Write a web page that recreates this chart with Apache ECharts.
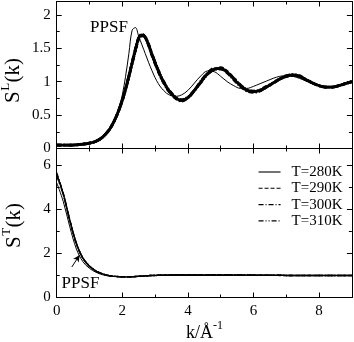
<!DOCTYPE html>
<html><head><meta charset="utf-8">
<script src="https://cdn.jsdelivr.net/npm/echarts@6/dist/echarts.min.js"></script>
<style>html,body{margin:0;padding:0;background:#fff}#c{width:354px;height:342px}</style>
</head><body><div id="c"></div>
<script>
// k values (1/Angstrom)
const kGrid = [0,0.2,0.4,0.6,0.8,1.0,1.2,1.4,1.6,
  1.7,1.8,1.9,2.0,2.1,2.2,2.3,2.4,2.5,2.6,2.7,2.8,2.9,3.0,3.1,3.2,3.3,
  3.4,3.6,3.8,4.0,4.2,4.4,4.6,4.8,5.0,5.2,5.4,5.6,5.8,6.0,6.2,6.4,6.6,6.8,7.0,7.2,7.4,7.6,7.8,8.0,8.2,8.4,8.6,8.8,9.0];

// Top panel: longitudinal S^L(k)
const sL_PPSF = [0.05,0.05,0.05,0.055,0.065,0.08,0.11,0.17,0.28,
  0.37,0.48,0.62,0.80,1.08,1.42,1.77,1.81,1.68,1.55,1.42,1.29,1.17,1.06,0.97,0.90,0.85,
  0.81,0.78,0.80,0.87,0.98,1.09,1.16,1.15,1.08,1.00,0.94,0.90,0.90,0.93,0.97,1.01,1.05,1.08,1.09,1.08,1.05,1.01,0.97,0.94,0.92,0.92,0.94,0.97,1.00];
const sL_280 = [0.05,0.05,0.05,0.055,0.065,0.08,0.11,0.17,0.28,
  0.36,0.46,0.58,0.72,0.89,1.08,1.28,1.48,1.65,1.70,1.66,1.55,1.41,1.28,1.16,1.05,0.96,
  0.88,0.77,0.72,0.76,0.87,1.00,1.12,1.19,1.20,1.14,1.04,0.94,0.87,0.85,0.87,0.92,0.98,1.04,1.08,1.10,1.08,1.03,0.98,0.94,0.92,0.92,0.94,0.97,1.00];
const sL_290 = [0.05,0.05,0.05,0.055,0.065,0.08,0.11,0.17,0.28,
  0.36,0.46,0.58,0.72,0.89,1.08,1.28,1.47,1.64,1.69,1.66,1.56,1.42,1.29,1.16,1.05,0.96,
  0.88,0.77,0.72,0.76,0.87,1.00,1.12,1.18,1.21,1.15,1.05,0.95,0.87,0.85,0.87,0.92,0.98,1.04,1.08,1.09,1.08,1.03,0.98,0.94,0.92,0.92,0.94,0.97,1.00];
const sL_300 = [0.05,0.05,0.05,0.055,0.065,0.08,0.11,0.17,0.28,
  0.36,0.46,0.58,0.72,0.89,1.08,1.29,1.49,1.66,1.71,1.67,1.55,1.40,1.27,1.15,1.04,0.95,
  0.87,0.76,0.71,0.76,0.87,1.01,1.13,1.20,1.20,1.13,1.03,0.93,0.86,0.84,0.86,0.92,0.98,1.04,1.09,1.10,1.08,1.03,0.98,0.94,0.92,0.92,0.94,0.97,1.00];
const sL_310 = [0.05,0.05,0.05,0.055,0.065,0.08,0.11,0.17,0.28,
  0.36,0.46,0.58,0.72,0.88,1.07,1.27,1.47,1.64,1.69,1.67,1.56,1.42,1.29,1.17,1.06,0.97,
  0.89,0.78,0.73,0.77,0.87,0.99,1.11,1.18,1.19,1.14,1.05,0.95,0.88,0.86,0.88,0.93,0.98,1.04,1.08,1.11,1.09,1.03,0.98,0.94,0.92,0.92,0.94,0.97,1.00];

// Bottom panel: transverse S^T(k)
const sT_PPSF = [5.20,4.35,3.20,2.20,1.62,1.32,1.14,1.03,0.97,
  0.955,0.945,0.935,0.93,0.93,0.93,0.935,0.94,0.95,0.96,0.97,0.98,0.99,0.995,1.0,1.0,1.0,
  1.0,1.0,1.0,1.0,1.0,1.0,1.0,1.0,1.0,1.0,1.0,1.0,1.0,1.0,1.0,1.0,1.0,1.0,1.0,1.0,1.0,1.0,1.0,1.0,1.0,1.0,1.0,1.0,1.0];
const sT_280 = [5.60,4.70,3.50,2.45,1.78,1.42,1.20,1.07,0.99,
  0.97,0.955,0.945,0.94,0.935,0.935,0.94,0.95,0.96,0.97,0.98,0.99,1.0,1.0,1.01,1.01,1.02,
  1.02,1.02,1.03,1.02,1.02,1.02,1.02,1.03,1.02,1.02,1.02,1.02,1.02,1.02,1.01,1.01,1.01,1.01,1.0,1.0,1.0,1.0,1.0,1.0,1.0,1.0,1.0,1.0,1.0];
const sT_290 = [5.55,4.68,3.48,2.44,1.77,1.41,1.20,1.07,0.99,
  0.97,0.955,0.945,0.94,0.935,0.935,0.94,0.95,0.96,0.97,0.98,0.99,1.0,1.01,1.01,1.02,1.01,
  1.02,1.03,1.02,1.02,1.03,1.02,1.02,1.02,1.03,1.02,1.02,1.01,1.02,1.02,1.01,1.01,1.01,1.0,1.0,1.0,1.0,1.0,1.0,1.0,1.0,1.0,1.0,1.0,1.0];
const sT_300 = [5.65,4.72,3.52,2.46,1.79,1.43,1.21,1.07,0.99,
  0.97,0.955,0.945,0.94,0.935,0.935,0.94,0.95,0.96,0.97,0.98,0.99,1.0,1.0,1.01,1.01,1.02,
  1.01,1.02,1.02,1.03,1.02,1.02,1.03,1.02,1.02,1.03,1.02,1.02,1.01,1.02,1.01,1.01,1.0,1.01,1.0,1.0,1.0,1.0,1.0,1.0,1.0,1.0,1.0,1.0,1.0];
const sT_310 = [5.50,4.66,3.47,2.43,1.77,1.41,1.19,1.06,0.99,
  0.97,0.955,0.945,0.94,0.935,0.935,0.94,0.95,0.96,0.97,0.98,0.99,1.0,1.0,1.0,1.01,1.01,
  1.02,1.02,1.02,1.02,1.02,1.03,1.02,1.02,1.02,1.02,1.03,1.02,1.02,1.01,1.02,1.01,1.01,1.01,1.0,1.0,1.0,1.0,1.0,1.0,1.0,1.0,1.0,1.0,1.0];

const tempNames = ['T=280K','T=290K','T=300K','T=310K'];
const xTickStep = 2, yTopTickStep = 0.5, yBotTickStep = 2;
const arrowFrom = [0.46, 1.38], arrowTo = [0.70, 1.93];

const FONT = '"Liberation Serif","DejaVu Serif","Times New Roman",serif';
const dashTypes = ['solid', [4, 2], [5, 2, 1, 2], [5, 2, 1, 2, 1, 2]];

function axis(dim, gi, pos, min, max, interval, opts) {
  opts = opts || {};
  return {
    type: 'value', gridIndex: gi, position: pos, min: min, max: max, interval: interval,
    axisLine: {show: !!opts.line, onZero: false, lineStyle: {color: '#000', width: 1}},
    axisTick: {show: true, inside: true, length: opts.tickLen || 5, lineStyle: {color: '#000', width: 1}},
    axisLabel: opts.labels ? {show: true, showMaxLabel: false, fontFamily: FONT, fontSize: 15, color: '#000', margin: opts.margin || 6} : {show: false},
    splitLine: {show: false}, minorTick: {show: false}
  };
}

const xAxes = [
  axis('x', 0, 'bottom', 0, 9, xTickStep, {line: true}),
  axis('x', 1, 'bottom', 0, 9, xTickStep, {line: true, labels: true, margin: 6}),
  axis('x', 0, 'top', 0, 9, xTickStep, {line: true}),
  axis('x', 1, 'top', 0, 9, xTickStep, {line: true}),
  axis('x', 0, 'bottom', 0, 9, 1, {tickLen: 3}),
  axis('x', 0, 'top', 0, 9, 1, {tickLen: 3}),
  axis('x', 1, 'bottom', 0, 9, 1, {tickLen: 3}),
  axis('x', 1, 'top', 0, 9, 1, {tickLen: 3})
];
const yAxes = [
  axis('y', 0, 'left', 0, 2.2, yTopTickStep, {line: true, labels: true, margin: 6}),
  axis('y', 1, 'left', 0, 6.75, yBotTickStep, {line: true, labels: true, margin: 6}),
  axis('y', 0, 'right', 0, 2.2, yTopTickStep, {line: true}),
  axis('y', 1, 'right', 0, 6.75, yBotTickStep, {line: true}),
  axis('y', 0, 'left', 0, 2.2, 0.25, {tickLen: 3}),
  axis('y', 0, 'right', 0, 2.2, 0.25, {tickLen: 3}),
  axis('y', 1, 'left', 0, 6.75, 1, {tickLen: 3}),
  axis('y', 1, 'right', 0, 6.75, 1, {tickLen: 3})
];

function pairs(ys) { return kGrid.map((k, i) => [k, ys[i]]); }
function line(name, ys, gi, width, type, extra) {
  return Object.assign({
    type: 'line', name: name, xAxisIndex: gi, yAxisIndex: gi,
    data: pairs(ys), symbol: 'none', smooth: 0.35, silent: true,
    lineStyle: {color: '#000', width: width, type: type}, itemStyle: {color: '#000'}
  }, extra || {});
}

const topMD = [sL_280, sL_290, sL_300, sL_310];
const botMD = [sT_280, sT_290, sT_300, sT_310];
const series = [];
series.push(line('PPSF', sL_PPSF, 0, 1, 'solid'));
topMD.forEach((d, i) => series.push(line(tempNames[i], d, 0, 2.8, dashTypes[i])));
series.push(line('PPSF ', sT_PPSF, 1, 1, 'solid', {
  markLine: {silent: true, symbol: ['none', 'arrow'], symbolSize: [5, 7], label: {show: false},
    lineStyle: {color: '#000', width: 1, type: 'solid'},
    data: [[{coord: arrowFrom}, {coord: arrowTo}]]}
}));
botMD.forEach((d, i) => series.push(line(tempNames[i], d, 1, 1.4, dashTypes[i])));

function txt(x, y, s, size, align) {
  return {type: 'text', x: x, y: y, style: {text: s, fontFamily: FONT, fontSize: size, fill: '#000', align: align || 'left', verticalAlign: 'middle'}};
}
function yTitle(x0, y0, sup) {
  return {type: 'group', x: x0, y: y0, rotation: Math.PI / 2, children: [
    txt(0, 0, 'S', 21), txt(12.2, -7, sup, 13), txt(20.5, 0, '(k)', 21)
  ]};
}

const chart = echarts.init(document.getElementById('c'), null, {renderer: 'canvas'});
chart.setOption({
  animation: false,
  backgroundColor: '#fff',
  grid: [
    {left: 56.7, width: 295.2, top: 1.5, height: 147, containLabel: false},
    {left: 56.7, width: 295.2, top: 148.5, height: 149, containLabel: false}
  ],
  xAxis: xAxes,
  yAxis: yAxes,
  legend: {
    data: tempNames, orient: 'vertical', left: 253, top: 159.5, padding: 5,
    itemWidth: 22, itemHeight: 14, itemGap: 1.3, selectedMode: false,
    lineStyle: {width: 1.1},
    itemStyle: {opacity: 0},
    textStyle: {fontFamily: FONT, fontSize: 15, lineHeight: 15, color: '#000', padding: [0, 0, 0, 6]}
  },
  graphic: [
    txt(109, 28, 'PPSF', 17, 'center'),
    txt(80.5, 284, 'PPSF', 17, 'center'),
    txt(186, 333, 'k/Å', 18),
    txt(213, 326, '-1', 12),
    yTitle(13, 103, 'L'),
    yTitle(14, 248, 'T')
  ],
  series: series
});
</script></body></html>
